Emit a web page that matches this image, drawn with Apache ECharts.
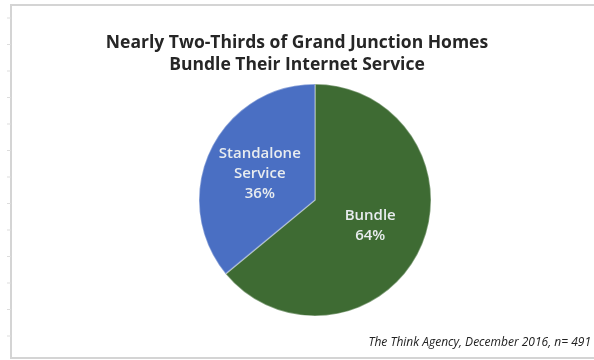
<!DOCTYPE html>
<html>
<head>
<meta charset="utf-8">
<script src="https://cdn.jsdelivr.net/npm/echarts@6/dist/echarts.min.js"></script>
<style>html,body{margin:0;padding:0;background:#fff;}#c{width:594px;height:360px;}</style>
</head>
<body>
<div id="c"></div>
<script>
var titleLines = ['Nearly Two-Thirds of Grand Junction Homes', 'Bundle Their Internet Service'];
var categories = ['Bundle', 'Standalone\nService'];
var values = [64, 36];
var colors = ['#3e6b33', '#4a6fc3'];
var footnote = 'The Think Agency, December 2016, n= 491';

var chart = echarts.init(document.getElementById('c'), null, {renderer: 'canvas'});
var ticks = [];
for (var i = 0; i < 14; i++) {
  ticks.push({type: 'line', shape: {x1: 7, y1: 18 + i * 26.5, x2: 11, y2: 18 + i * 26.5}, style: {stroke: '#dddddd', lineWidth: 1}, silent: true});
}
chart.setOption({
  animation: false,
  title: {
    text: titleLines.join('\n'),
    left: 'center',
    top: 27,
    textStyle: {fontFamily: 'Open Sans', fontWeight: 'bold', fontSize: 17.5, color: '#262626', lineHeight: 22}
  },
  graphic: [
    {type: 'rect', shape: {x: 11, y: 5, width: 600, height: 353}, style: {fill: 'none', stroke: '#d4d4d4', lineWidth: 2}, silent: true},
    {type: 'text', right: 3, top: 337, style: {text: footnote, font: 'italic 12px "Open Sans"', fill: '#222'}}
  ].concat(ticks),
  series: [{
    type: 'pie',
    center: [315, 200],
    radius: [0, 116],
    startAngle: 90,
    clockwise: true,
    data: categories.map(function (c, i) { return {name: c, value: values[i], itemStyle: {color: colors[i]}}; }),
    itemStyle: {borderColor: 'rgba(255,255,255,0.35)', borderWidth: 1.5},
    label: {
      position: 'inside',
      formatter: '{b}\n{d}%',
      fontFamily: 'Open Sans',
      fontWeight: 600,
      fontSize: 15,
      lineHeight: 20,
      color: '#e8ecef'
    },
    labelLine: {show: false}
  }]
});
</script>
</body>
</html>
